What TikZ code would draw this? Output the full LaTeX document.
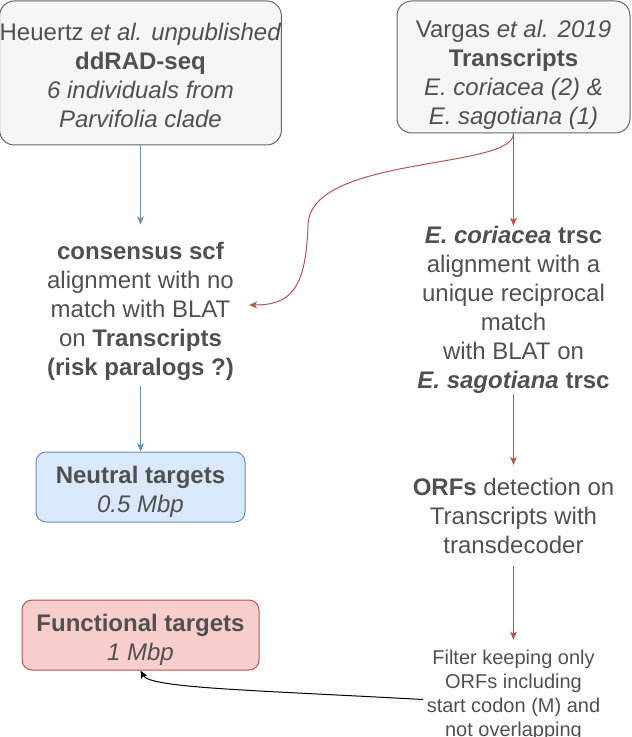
\documentclass[tikz,border=0pt]{standalone}
\usepackage{fontspec}
\setmainfont{Liberation Sans}
\usetikzlibrary{arrows.meta}

\newcommand{\topgap}[1]{\rule{0pt}{#1}}

\tikzset{every picture/.style={line width=0.75pt}}
\tikzset{
	txt/.style={align=center, inner sep=0pt, text={rgb, 255:red, 80; green, 80; blue, 80 }, font=\fontsize{18}{21.75}\selectfont},
	smalltxt/.style={txt, font=\fontsize{15}{18}\selectfont},
	greybox/.style={txt, draw={rgb, 255:red, 102; green, 102; blue, 102 }, fill={rgb, 255:red, 245; green, 245; blue, 245 }, rounded corners=11pt},
	bluebox/.style={txt, draw={rgb, 255:red, 108; green, 142; blue, 191 }, fill={rgb, 255:red, 218; green, 232; blue, 252 }, rounded corners=7.5pt},
	redbox/.style={txt, draw={rgb, 255:red, 184; green, 84; blue, 80 }, fill={rgb, 255:red, 248; green, 206; blue, 204 }, rounded corners=7.5pt},
	bluearrow/.style={draw={rgb, 255:red, 108; green, 142; blue, 191 }, -{Stealth[length=6pt,width=5pt,inset=1.5pt]}},
	redarrow/.style={draw={rgb, 255:red, 184; green, 84; blue, 80 }, -{Stealth[length=6pt,width=5pt,inset=1.5pt]}},
	blackarrow/.style={draw=black, -{Stealth[length=6pt,width=5pt,inset=1.5pt]}}
}

\begin{document}
\begin{tikzpicture}[x=0.75pt,y=0.75pt,yscale=-1,xscale=1]
	\useasboundingbox (0,0) rectangle (631,737);

	%Shape: Rounded Rect [id:heuertz]
	\draw (140.5,73) node [greybox, minimum width=209.25pt, minimum height=108pt] (heu) {\topgap{16pt}Heuertz \textit{et al. unpublished}\\\textbf{ddRAD-seq}\\\textit{6 individuals from}\\\textit{Parvifolia clade}};
	%Shape: Rounded Rect [id:vargas]
	\draw (513.5,67) node [greybox, minimum width=174.75pt, minimum height=99pt] (var) {\topgap{25pt}Vargas \textit{et al. 2019}\\\textbf{Transcripts}\\\textit{E. coriacea (2) \&}\\\textit{E. sagotiana (1)}};

	% Text Node
	\draw (140.5,305) node [txt, minimum width=162pt, minimum height=120pt] (cons) {\topgap{22pt}\textbf{consensus scf}\\alignment with no\\match with BLAT\\on \textbf{Transcripts}\\\textbf{(risk paralogs ?)}};
	% Text Node
	\draw (513.5,310) node [txt, minimum width=162pt, minimum height=118pt] (recip) {\textbf{\textit{E. coriacea}} \textbf{trsc}\\alignment with a\\unique reciprocal\\match\\with BLAT on\\\textbf{\textit{E. sagotiana}} \textbf{trsc}};
	% Text Node
	\draw (513.5,515.5) node [txt, minimum width=162pt, minimum height=75pt] (orf) {\textbf{ORFs} detection on\\Transcripts with\\transdecoder};
	% Text Node
	\draw (513.5,695.5) node [smalltxt, minimum width=135pt, minimum height=83pt] (filt) {Filter keeping only\\ORFs including\\start codon (M) and\\not overlapping};

	%Shape: Rounded Rect [id:neutral]
	\draw (140.5,487) node [bluebox, minimum width=156.75pt, minimum height=52.5pt] (neu) {\topgap{20.5pt}\textbf{Neutral targets}\\\textit{0.5 Mbp}};
	%Shape: Rounded Rect [id:functional]
	\draw (140.5,635) node [redbox, minimum width=177.75pt, minimum height=52.5pt] (func) {\topgap{20.5pt}\textbf{Functional targets}\\\textit{1 Mbp}};

	%Straight Lines
	\draw [bluearrow] (heu) -- (cons);
	\draw [bluearrow] (cons) -- (neu);
	\draw [redarrow] (var) -- (recip);
	\draw [redarrow] (recip) -- (orf);
	\draw [redarrow] (orf) -- (filt);
	%Curve Lines
	\coordinate (bend) at (308,225);
	\draw [redarrow] (var.south) .. controls (513.5,170) and (310,155) .. (bend) .. controls (306,290) and (290,305) .. (cons.east);
	\draw [blackarrow] ([yshift=3pt]filt.west) .. controls (250,690) and (150,688) .. (func.south);

\end{tikzpicture}
\end{document}
